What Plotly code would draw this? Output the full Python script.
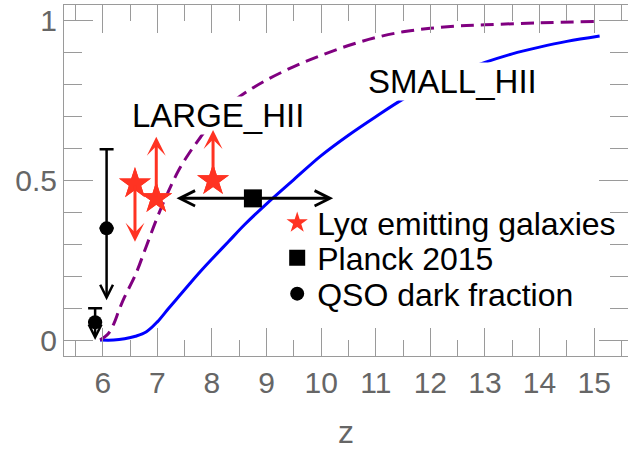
import plotly.graph_objects as go

# SMALL_HII model curve (solid blue)
small_z = [5.95, 6.2, 6.4, 6.6, 6.8, 7.0, 7.2, 7.4, 7.6, 7.8, 8.0, 8.3, 8.6, 9.0, 9.5, 10.0, 10.5,
           11.0, 11.5, 12.0, 12.5, 13.0, 13.5, 14.0, 14.5, 15.1]
small_x = [0.0, 0.0, 0.004, 0.012, 0.026, 0.057, 0.098, 0.138, 0.178, 0.217, 0.254, 0.308, 0.362,
           0.427, 0.503, 0.578, 0.642, 0.70, 0.755, 0.80, 0.838, 0.87, 0.897, 0.918, 0.936, 0.953]

# LARGE_HII model curve (dashed purple)
large_z = [5.95, 6.1, 6.2, 6.3, 6.4, 6.6, 6.8, 7.0, 7.2, 7.4, 7.6, 7.8, 8.0, 8.3, 8.6, 9.0, 9.5,
           10.0, 10.5, 11.0, 11.5, 12.0, 12.5, 13.0, 14.0, 15.0]
large_x = [0.0, 0.02, 0.05, 0.095, 0.135, 0.205, 0.295, 0.385, 0.465, 0.535, 0.59, 0.638, 0.683,
           0.735, 0.774, 0.815, 0.857, 0.892, 0.923, 0.948, 0.966, 0.977, 0.984, 0.988, 0.994, 0.998]

# Lya emitting galaxies (with limits)
lya_z = [6.59, 6.98, 8.02]
lya_x = [0.49, 0.444, 0.50]
lya_lim = [0.308, 0.637, 0.658]

# Planck 2015
planck_z = [8.75]
planck_x = [0.444]
planck_lo = [7.35]
planck_hi = [10.22]

# QSO dark fraction
qso_z = [6.07, 5.86]
qso_x = [0.35, 0.056]
qso_up = [0.598, 0.10]
qso_lo = [0.125, 0.0]

RED = "#ff3322"
GRAY_LINE = "#9a9a9a"
GRAY_TXT = "#666666"
FONT = "Liberation Sans, Arial, sans-serif"

fig = go.Figure()

fig.add_trace(go.Scatter(x=small_z, y=small_x, mode="lines", line=dict(color="#0000ff", width=3),
                         line_shape="spline", showlegend=False, hoverinfo="skip"))
fig.add_trace(go.Scatter(x=large_z, y=large_x, mode="lines",
                         line=dict(color="#800080", width=3, dash="13px,7px"),
                         line_shape="spline", showlegend=False, hoverinfo="skip"))

fig.add_trace(go.Scatter(x=qso_z, y=qso_x, mode="markers", name="QSO dark fraction",
                         marker=dict(symbol="circle", size=14, color="black"),
                         error_y=dict(type="data", symmetric=False,
                                      array=[u - v for u, v in zip(qso_up, qso_x)],
                                      arrayminus=[0, 0], color="black", thickness=2.5, width=7),
                         legend="legend3"))
fig.add_trace(go.Scatter(x=planck_z, y=planck_x, mode="markers", name="Planck 2015",
                         marker=dict(symbol="square", size=18, color="black"),
                         legend="legend2"))
fig.add_trace(go.Scatter(x=lya_z, y=lya_x, mode="markers", name="Lyα emitting galaxies",
                         marker=dict(symbol="star", size=24, color=RED),
                         legend="legend"))

annotations = [
    dict(x=8.11, y=0.705, xref="x", yref="y", text="LARGE_HII", showarrow=False,
         font=dict(family=FONT, size=33, color="black"), bgcolor="white", borderpad=0),
    dict(x=12.41, y=0.81, xref="x", yref="y", text="SMALL_HII", showarrow=False,
         font=dict(family=FONT, size=33, color="black"), bgcolor="white", borderpad=0),
]

for z, v, lim in zip(lya_z, lya_x, lya_lim):
    annotations.append(dict(x=z, y=lim, ax=z, ay=v, xref="x", yref="y", axref="x", ayref="y",
                            text="", showarrow=True, arrowhead=3, arrowsize=1.05, arrowwidth=3,
                            arrowcolor=RED, standoff=0, startstandoff=0))
for z, v, lo, hi in zip(planck_z, planck_x, planck_lo, planck_hi):
    for end in (lo, hi):
        annotations.append(dict(x=end, y=v, ax=z, ay=v, xref="x", yref="y", axref="x", ayref="y",
                                text="", showarrow=True, arrowhead=5, arrowsize=1, arrowwidth=3,
                                arrowcolor="black", standoff=0, startstandoff=0))
for z, v, lo in zip(qso_z, qso_x, qso_lo):
    annotations.append(dict(x=z, y=lo, ax=z, ay=v, xref="x", yref="y", axref="x", ayref="y",
                            text="", showarrow=True, arrowhead=5, arrowsize=1, arrowwidth=2.5,
                            arrowcolor="black", standoff=0, startstandoff=0))

# redraw markers above arrows
fig.add_trace(go.Scatter(x=lya_z, y=lya_x, mode="markers", marker=dict(symbol="star", size=24, color=RED),
                         showlegend=False, hoverinfo="skip"))

leg_common = dict(font=dict(family=FONT, size=32, color="black"), bgcolor="rgba(0,0,0,0)",
                  xanchor="left", yanchor="middle", borderwidth=0)

fig.update_layout(
    width=628, height=450,
    margin=dict(l=64, r=0, t=5, b=94),
    paper_bgcolor="white", plot_bgcolor="white",
    font=dict(family=FONT, color=GRAY_TXT),
    annotations=annotations,
    legend=dict(x=0.378, y=0.379, **leg_common),
    legend2=dict(x=0.378, y=0.279, **leg_common),
    legend3=dict(x=0.378, y=0.177, **leg_common),
    xaxis=dict(range=[5.29, 15.62], tick0=6, dtick=1, ticks="inside", ticklen=28, tickwidth=1,
               tickcolor=GRAY_LINE, showline=True, linecolor=GRAY_LINE, linewidth=1, mirror="ticks",
               showgrid=False, zeroline=False, tickfont=dict(size=30, color=GRAY_TXT),
               minor=dict(tick0=5.5, dtick=0.5, ticks="inside", ticklen=16, tickcolor=GRAY_LINE,
                          showgrid=False),
               title=dict(text="z", font=dict(size=32, color=GRAY_TXT), standoff=22)),
    yaxis=dict(range=[-0.05, 1.05], tick0=0, dtick=0.5, ticks="inside", ticklen=29, tickwidth=1,
               tickcolor=GRAY_LINE, showline=True, linecolor=GRAY_LINE, linewidth=1, mirror="ticks",
               showgrid=False, zeroline=False, tickfont=dict(size=30, color=GRAY_TXT),
               minor=dict(tick0=0, dtick=0.1, ticks="inside", ticklen=18, tickcolor=GRAY_LINE,
                          showgrid=False)),
)

fig.write_html("out.html", config={"displayModeBar": False},
               post_script="document.body.style.margin='0';document.body.style.overflow='hidden';")
